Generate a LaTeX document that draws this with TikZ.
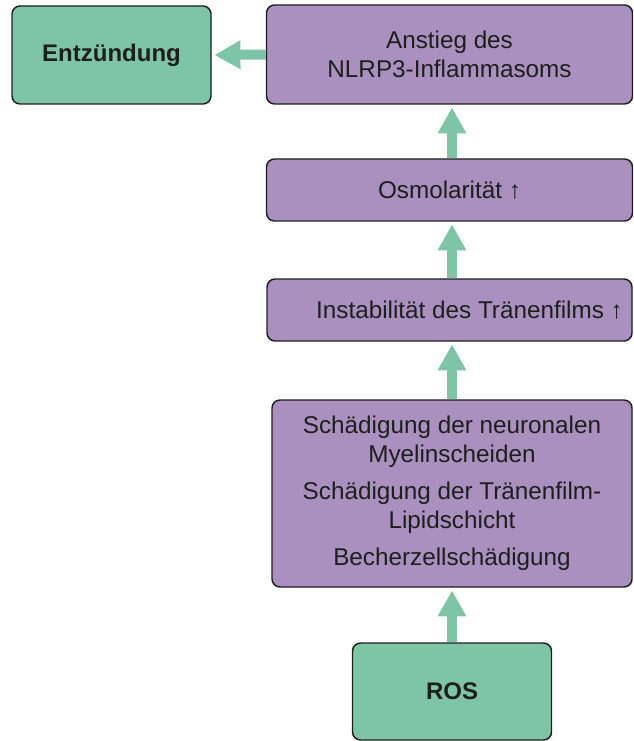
\documentclass[tikz,border=0pt]{standalone}
\usepackage{fontspec}
\setmainfont{Liberation Sans}
\usepackage{tikz}
\usetikzlibrary{arrows.meta}
\definecolor{fGreen}{HTML}{7EC4A7}
\definecolor{fPurple}{HTML}{AA90BE}
\definecolor{fInk}{HTML}{1E1E1E}
\tikzset{
  flowbox/.style={draw=fInk, line width=1.1pt, rounded corners=6pt, inner sep=2pt,
    align=center, text=fInk, font=\fontsize{18.2}{21.75}\selectfont},
  causebox/.style={flowbox, fill=fPurple},
  endbox/.style={flowbox, fill=fGreen, font=\fontsize{18}{21.75}\selectfont\bfseries},
  flowarrow/.style={draw=fGreen, line width=7.5pt,
    -{Triangle[width=20.25pt, length=19.5pt]}, shorten >=2pt},
}
\begin{document}
\begin{tikzpicture}[x=0.75pt, y=-0.75pt]
  \useasboundingbox (0,0) rectangle (633,741);
  % boxes
  \node[endbox, minimum width=149.25pt, minimum height=73.5pt] (ent) at (111.5,55) {Entzündung};
  \node[causebox, minimum width=274.5pt, minimum height=74.25pt] (nlrp) at (449.5,54.5)
    {Anstieg des\\NLRP3-Inflammasoms};
  \node[causebox, minimum width=274.5pt, minimum height=46.5pt] (osmo) at (449.5,190)
    {Osmolarität ↑};
  \node[causebox, minimum width=273.75pt, minimum height=46.5pt] (inst) at (449.5,310)
    {\hspace*{30pt}Instabilität des Tränenfilms ↑};
  \node[causebox, minimum width=270pt, minimum height=140.25pt] (dmg) at (452,493.5)
    {Schädigung der neuronalen\\Myelinscheiden\\[6pt]Schädigung der Tränenfilm-\\Lipidschicht\\[6pt]Becherzellschädigung};
  \node[endbox, minimum width=149.25pt, minimum height=72.75pt] (ros) at (452,691.5) {ROS};
  % arrows
  \draw[flowarrow] (ros.north) -- (dmg.south);
  \draw[flowarrow] (dmg.north) -- (dmg.north |- inst.south);
  \draw[flowarrow] (dmg.north |- inst.north) -- (dmg.north |- osmo.south);
  \draw[flowarrow] (dmg.north |- osmo.north) -- (dmg.north |- nlrp.south);
  \draw[flowarrow] (nlrp.west) -- (ent.east);
\end{tikzpicture}
\end{document}
